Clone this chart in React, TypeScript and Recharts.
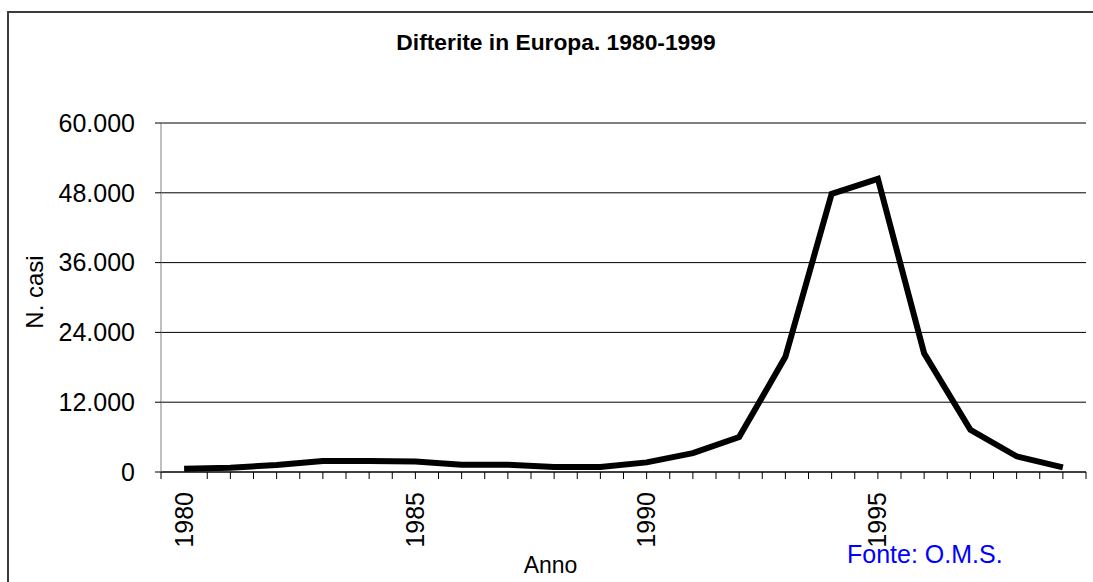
import React from 'react';
import { CartesianGrid, Line, LineChart, XAxis, YAxis } from 'recharts';

const years = [1980, 1981, 1982, 1983, 1984, 1985, 1986, 1987, 1988, 1989, 1990, 1991, 1992, 1993, 1994, 1995, 1996, 1997, 1998, 1999];
const cases = [550, 730, 1200, 1880, 1880, 1820, 1250, 1250, 860, 860, 1650, 3250, 6000, 19800, 47800, 50400, 20400, 7250, 2700, 800];
const yTicks = [0, 12000, 24000, 36000, 48000, 60000];
const yearLabels = [1980, 1985, 1990, 1995];

const data = years.map((year, i) => ({ year, cases: cases[i] }));
// tick marks at every category centre and every category boundary
const xTicks = [years[0] - 0.5, ...years.flatMap((y) => [y, y + 0.5])];

const font = '"Liberation Sans", Arial, sans-serif';
const fmt = (v: number) => (v === 0 ? '0' : v.toLocaleString('de-DE'));

const YearTick = (props: any) => {
	const { x, y, payload } = props;
	const v = payload.value;
	const showLabel = yearLabels.includes(v);
	return (
		<g>
			{v !== years[0] && <line x1={x} y1={y} x2={x} y2={y + 7} stroke='#000' strokeWidth={1} />}
			{showLabel && (
				<text
					transform={`translate(${x + 8.5}, ${y + 20}) rotate(-90)`}
					textAnchor='end'
					fontSize={25}
					fontFamily={font}
					fill='#000'
				>
					{v}
				</text>
			)}
		</g>
	);
};

const App = () => {
	return (
		<div style={{ position: 'absolute', left: 0, top: 0, width: 1093, height: 582, overflow: 'hidden', background: '#fff' }}>
			<div
				style={{
					position: 'absolute',
					left: 7,
					top: 11,
					width: 1200,
					height: 700,
					border: '2px solid #3c3c3c',
				}}
			/>
			<div style={{ position: 'absolute', left: 0, top: 0 }}>
				<LineChart width={1093} height={582} data={data} margin={{ top: 123, right: 7, bottom: 0, left: 0 }}>
					<CartesianGrid vertical={false} stroke='#000' strokeOpacity={1} />
					<XAxis
						dataKey='year'
						type='number'
						domain={[1979.5, 1999.5]}
						ticks={xTicks}
						interval={0}
						height={110}
						stroke='#000'
						tickLine={false}
						tickSize={0}
						tickMargin={0}
						tick={<YearTick />}
					/>
					<YAxis
						width={161}
						domain={[0, 60000]}
						ticks={yTicks}
						interval={0}
						tickFormatter={fmt}
						stroke='#808080'
						tickLine={{ stroke: '#000' }}
						tickSize={6}
						tickMargin={20}
						tick={{ fill: '#000', fontSize: 25, fontFamily: font }}
					/>
					<Line
						type='linear'
						dataKey='cases'
						stroke='#000'
						strokeWidth={6}
						dot={false}
						activeDot={false}
						isAnimationActive={false}
					/>
				</LineChart>
			</div>
			<svg width={1093} height={582} style={{ position: 'absolute', left: 0, top: 0, pointerEvents: 'none' }}>
				<text x={556} y={50} textAnchor='middle' fontSize={22.8} fontWeight='bold' fontFamily={font} fill='#000'>
					Difterite in Europa. 1980-1999
				</text>
				<text transform='translate(43, 292) rotate(-90)' textAnchor='middle' fontSize={24} fontFamily={font} fill='#000'>
					N. casi
				</text>
				<text x={550.5} y={573} textAnchor='middle' fontSize={23} fontFamily={font} fill='#000'>
					Anno
				</text>
				<text x={847} y={563} fontSize={25} fontFamily={font} fill='#0000FF'>
					Fonte: O.M.S.
				</text>
			</svg>
		</div>
	);
};

export default App;
